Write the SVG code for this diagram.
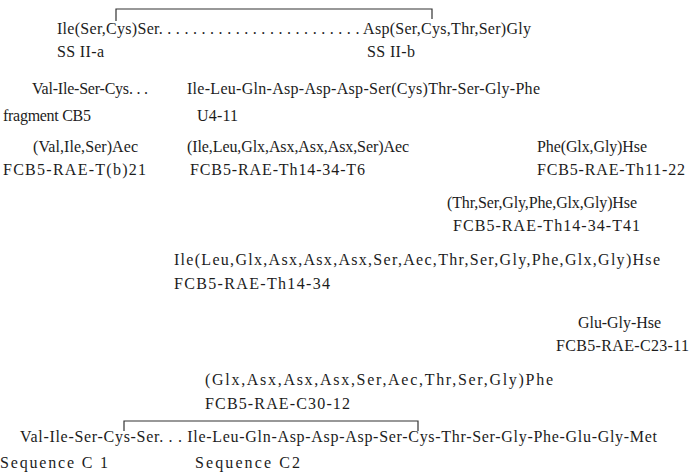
<svg xmlns="http://www.w3.org/2000/svg" width="689" height="474" viewBox="0 0 689 474">
<style>
text{font-family:"Liberation Serif","Times New Roman",serif;font-size:16px;fill:#1c1c1c;}
.br{fill:none;stroke:#333;stroke-width:1.2;}
</style>
<rect width="689" height="474" fill="#fff"/>
<g id="connectors">
<path class="br" d="M116,21 V9 H432 V19"/>
<path class="br" d="M124,431 V421 H418 V431"/>
</g>
<g id="ss2">
<text x="57" y="34" textLength="474" lengthAdjust="spacing">Ile(Ser,Cys)Ser. . . . . . . . . . . . . . . . . . . . . . . . Asp(Ser,Cys,Thr,Ser)Gly</text>
<text x="57" y="57" textLength="47" lengthAdjust="spacing">SS II-a</text>
<text x="367" y="57" textLength="48" lengthAdjust="spacing">SS II-b</text>
</g>
<g id="cb5">
<text x="32" y="94" textLength="116" lengthAdjust="spacing">Val-Ile-Ser-Cys. . .</text>
<text x="3" y="121" textLength="88" lengthAdjust="spacing">fragment CB5</text>
</g>
<g id="u4-11">
<text x="187" y="94" textLength="353" lengthAdjust="spacing">Ile-Leu-Gln-Asp-Asp-Asp-Ser(Cys)Thr-Ser-Gly-Phe</text>
<text x="197" y="121" textLength="41" lengthAdjust="spacing">U4-11</text>
</g>
<g id="t-b-21">
<text x="33" y="152" textLength="105" lengthAdjust="spacing">(Val,Ile,Ser)Aec</text>
<text x="3" y="175" textLength="143" lengthAdjust="spacing">FCB5-RAE-T(b)21</text>
</g>
<g id="th14-34-t6">
<text x="187" y="152" textLength="222" lengthAdjust="spacing">(Ile,Leu,Glx,Asx,Asx,Asx,Ser)Aec</text>
<text x="190" y="175" textLength="175" lengthAdjust="spacing">FCB5-RAE-Th14-34-T6</text>
</g>
<g id="th11-22">
<text x="537" y="152" textLength="110" lengthAdjust="spacing">Phe(Glx,Gly)Hse</text>
<text x="537" y="175" textLength="148" lengthAdjust="spacing">FCB5-RAE-Th11-22</text>
</g>
<g id="th14-34-t41">
<text x="447" y="208" textLength="190" lengthAdjust="spacing">(Thr,Ser,Gly,Phe,Glx,Gly)Hse</text>
<text x="453" y="231" textLength="187" lengthAdjust="spacing">FCB5-RAE-Th14-34-T41</text>
</g>
<g id="th14-34">
<text x="174" y="265" textLength="486" lengthAdjust="spacing">Ile(Leu,Glx,Asx,Asx,Asx,Ser,Aec,Thr,Ser,Gly,Phe,Glx,Gly)Hse</text>
<text x="174" y="289" textLength="156" lengthAdjust="spacing">FCB5-RAE-Th14-34</text>
</g>
<g id="c23-11">
<text x="578" y="328" textLength="83" lengthAdjust="spacing">Glu-Gly-Hse</text>
<text x="556" y="351" textLength="133" lengthAdjust="spacing">FCB5-RAE-C23-11</text>
</g>
<g id="c30-12">
<text x="205" y="385" textLength="348" lengthAdjust="spacing">(Glx,Asx,Asx,Asx,Ser,Aec,Thr,Ser,Gly)Phe</text>
<text x="205" y="409" textLength="145" lengthAdjust="spacing">FCB5-RAE-C30-12</text>
</g>
<g id="sequence">
<text x="20" y="442" textLength="637" lengthAdjust="spacing">Val-Ile-Ser-Cys-Ser. . . Ile-Leu-Gln-Asp-Asp-Asp-Ser-Cys-Thr-Ser-Gly-Phe-Glu-Gly-Met</text>
<text x="0" y="468" textLength="108" lengthAdjust="spacing">Sequence C 1</text>
<text x="195" y="468" textLength="105" lengthAdjust="spacing">Sequence C2</text>
</g>
</svg>
